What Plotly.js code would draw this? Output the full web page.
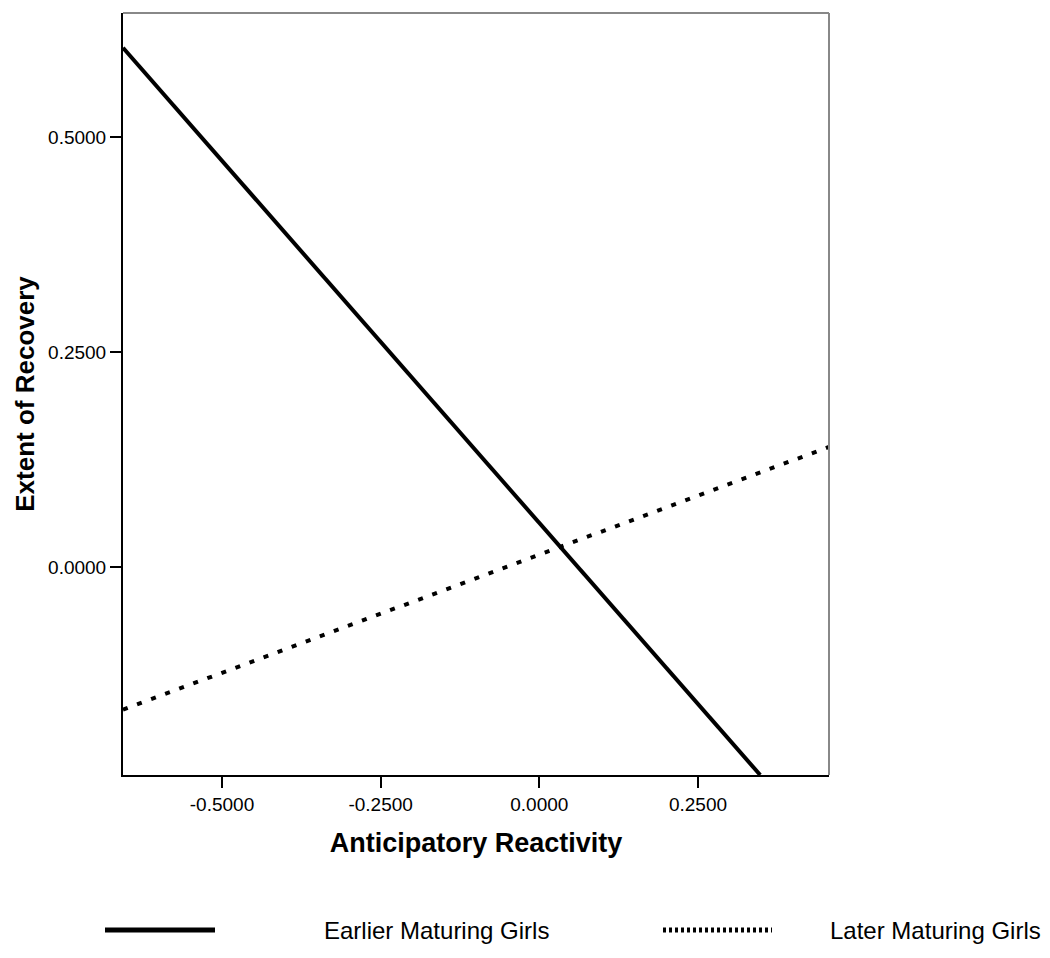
<!DOCTYPE html>
<html>
<head>
<meta charset="utf-8">
<script src="https://cdn.plot.ly/plotly-3.0.1.min.js"></script>
<style>
  html,body{margin:0;padding:0;background:#fff;}
  #chart{width:1050px;height:958px;}
</style>
</head>
<body>
<div id="chart"></div>
<script>
// ===== data =====
const seriesNames = ['Earlier Maturing Girls', 'Later Maturing Girls'];
const earlierX = [-0.656, 0.348];
const earlierY = [0.6035, -0.242];
const laterX   = [-0.656, 0.4564];
const laterY   = [-0.166, 0.1395];
const xTicks = [-0.5, -0.25, 0, 0.25];
const yTicks = [0, 0.25, 0.5];
const fmtTick = v => v.toFixed(4);

(function(){
  const font = 'Liberation Sans, Arial, sans-serif';
  const traces = [
    {type:'scatter', mode:'lines', x:earlierX, y:earlierY, name:seriesNames[0],
     line:{color:'#000', width:4}, cliponaxis:true},
    {type:'scatter', mode:'lines', x:laterX, y:laterY, name:seriesNames[1],
     line:{color:'#000', width:4, dash:'5px,10px'}, cliponaxis:true}
  ];

  const legY = -(930-775)/762;
  const layout = {
    width:1050, height:958,
    paper_bgcolor:'#fff', plot_bgcolor:'#fff',
    margin:{l:123, r:221, t:13, b:183},
    showlegend:false,
    font:{family:font, color:'#000', size:19},
    xaxis:{
      range:[-0.656, 0.4564], showgrid:false, zeroline:false,
      showline:true, linecolor:'#000', linewidth:2,
      ticks:'outside', ticklen:11, tickwidth:2, tickcolor:'#000',
      tickvals:xTicks, ticktext:xTicks.map(fmtTick),
      tickfont:{size:19, family:font},
      title:{text:'<b>Anticipatory Reactivity</b>', font:{size:27, family:font}, standoff:19}
    },
    yaxis:{
      range:[-0.242, 0.644], showgrid:false, zeroline:false,
      showline:true, linecolor:'#000', linewidth:2,
      ticks:'outside', ticklen:11, tickwidth:2, tickcolor:'#000',
      tickvals:yTicks, ticktext:yTicks.map(fmtTick),
      tickfont:{size:19, family:font},
      title:{text:'<b>Extent of Recovery</b>', font:{size:26, family:font}, standoff:6}
    },
    shapes:[
      // grey top / right frame
      {type:'line', xref:'paper', yref:'paper', x0:0, x1:1, y0:1, y1:1, line:{color:'#888', width:2}},
      {type:'line', xref:'paper', yref:'paper', x0:1, x1:1, y0:0, y1:1, line:{color:'#888', width:2}},
      // legend samples
      {type:'line', xref:'paper', yref:'paper', x0:(105-123)/706, x1:(215-123)/706,
       y0:legY, y1:legY, line:{color:'#000', width:5}},
      {type:'line', xref:'paper', yref:'paper', x0:(663-123)/706, x1:(772-123)/706,
       y0:legY, y1:legY, line:{color:'#000', width:5, dash:'3px,3px'}}
    ],
    annotations:[
      {xref:'paper', yref:'paper', x:(322-123)/706, y:legY, xanchor:'left', yanchor:'middle',
       text:seriesNames[0], showarrow:false, font:{family:font, size:24}},
      {xref:'paper', yref:'paper', x:(828-123)/706, y:legY, xanchor:'left', yanchor:'middle',
       text:seriesNames[1], showarrow:false, font:{family:font, size:24}}
    ]
  };

  Plotly.newPlot('chart', traces, layout, {displayModeBar:false, staticPlot:true});
})();
</script>
</body>
</html>
